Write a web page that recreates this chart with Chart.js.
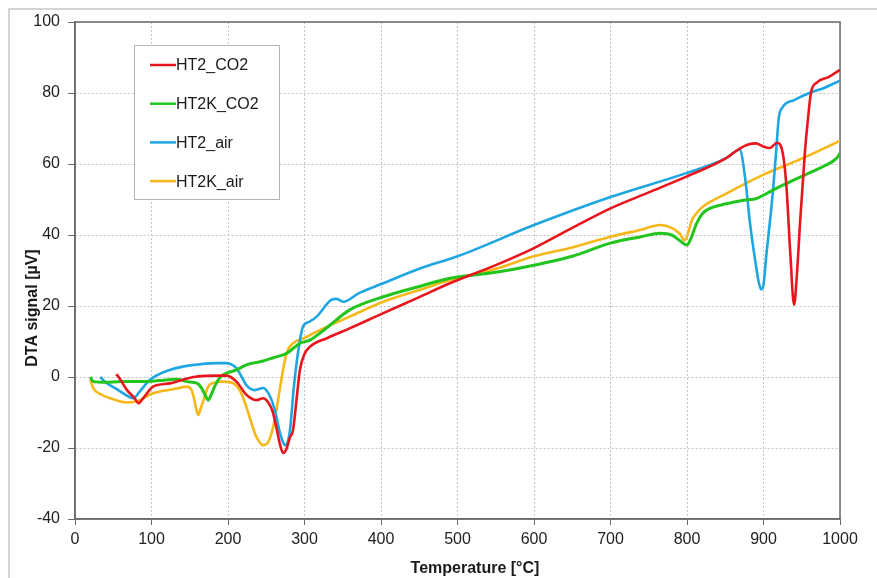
<!DOCTYPE html>
<html>
<head>
<meta charset="utf-8">
<script src="https://cdn.jsdelivr.net/npm/chart.js@4.4.1/dist/chart.umd.min.js"></script>
<style>
  html, body { margin: 0; padding: 0; background: #ffffff; }
  #wrap { position: relative; width: 877px; height: 578px; }
</style>
</head>
<body>
<div id="wrap"><canvas id="c" width="877" height="578"></canvas></div>
<script>
// ---- Data ----
const seriesLabels = ['HT2_CO2', 'HT2K_CO2', 'HT2_air', 'HT2K_air'];
const xTickValues = [0, 100, 200, 300, 400, 500, 600, 700, 800, 900, 1000];
const yTickValues = [-40, -20, 0, 20, 40, 60, 80, 100];
const xAxisTitle = 'Temperature [°C]';
const yAxisTitle = 'DTA signal [µV]';

const ht2CO2_T = [54, 57, 68, 78, 83, 89, 102, 124, 155, 190, 198, 211, 224, 237, 246, 252, 258, 264, 268, 272, 276, 281, 285, 290, 294, 300, 307, 330, 359, 403, 450, 490, 550, 600, 650, 700, 750, 800, 850, 860, 870, 880, 890, 899, 908, 918, 922, 926, 930, 935, 940, 944, 948, 954, 958, 962, 970, 985, 1000];
const ht2CO2_V = [0.8, 0, -3.7, -6, -7.4, -6, -2.7, -1.8, 0, 0.4, 0.4, -1.3, -5, -6.5, -6, -7, -9.5, -15, -19, -21.4, -20.5, -17, -15, -5.5, 2, 6.5, 8.5, 11, 13.7, 18, 22.5, 26.4, 31.5, 36.3, 42, 47.5, 52, 56.5, 61.5, 63, 64.5, 65.5, 65.8, 65, 64.5, 66, 65.4, 62, 53.6, 34.9, 20.3, 30, 44.2, 63, 72.4, 80, 83, 84.5, 86.5];

const ht2kCO2_T = [20, 24, 40, 60, 89, 110, 133, 146, 160, 165, 170, 174, 178, 183, 190, 200, 211, 225, 242, 260, 277, 294, 307, 330, 359, 403, 450, 490, 550, 600, 650, 700, 740, 765, 780, 790, 800, 806, 812, 820, 830, 843, 860, 878, 890, 904, 920, 940, 960, 980, 995, 1000];
const ht2kCO2_V = [0, -1.3, -1.5, -1.3, -1.3, -1, -0.6, -1.3, -1.8, -3, -5, -6.5, -5, -2.5, 0, 1.2, 2, 3.5, 4.3, 5.5, 6.7, 9.5, 10.4, 14, 18.9, 22.6, 25.5, 27.8, 29.5, 31.5, 34, 37.7, 39.5, 40.5, 40, 38.5, 37.2, 39.5, 43, 46, 47.5, 48.4, 49.2, 49.9, 50.2, 51.7, 53.5, 55.5, 57.5, 59.5, 61.5, 63];

const ht2Air_T = [33, 40, 55, 70, 76, 85, 98, 124, 155, 185, 198, 205, 211, 218, 224, 235, 246, 255, 262, 268, 275, 281, 286, 292, 298, 306, 316, 335, 342, 351, 370, 403, 450, 500, 600, 700, 800, 850, 869, 876, 882, 889, 894, 897, 900, 904, 909, 913, 917, 920, 925, 940, 960, 980, 1000];
const ht2Air_V = [0, -1.5, -3.5, -5.5, -6, -4, -0.8, 2, 3.4, 3.9, 3.9, 3.5, 2.5, 0, -2.3, -3.7, -3.1, -5.5, -10, -15.8, -19.2, -15, -3, 7.6, 14.2, 15.5, 17, 21.7, 22, 21.2, 23.5, 26.4, 30.5, 34, 42.8, 50.7, 57.5, 61.5, 64, 56, 44, 33, 26.5, 24.7, 26, 35, 45, 54, 65, 73, 76, 78, 80, 81.5, 83.5];

const ht2kAir_T = [20, 24, 35, 46, 58, 68, 78, 85, 93, 102, 118, 133, 146, 152, 155, 158, 161, 164, 168, 174, 182, 194, 207, 216, 224, 230, 237, 246, 252, 258, 264, 268, 272, 277, 285, 300, 316, 359, 403, 450, 490, 550, 600, 650, 700, 740, 765, 780, 790, 797, 802, 806, 812, 821, 850, 900, 950, 1000];
const ht2kAir_V = [-0.8, -3.2, -5, -6, -6.8, -7.2, -7, -6.5, -5.5, -4.6, -3.8, -3.2, -2.7, -3.5, -5.5, -8.5, -10.7, -9, -6.5, -2.7, -1.6, -1.3, -1.8, -4, -8.4, -12.5, -16.8, -19.2, -18.5, -15, -8.4, -3, 2, 7, 9.5, 11, 12.8, 17, 21.2, 24.5, 27.3, 30.5, 34, 36.5, 39.5, 41.5, 42.8, 42, 40.5, 38.5, 41, 44, 46, 48, 51.5, 57, 61.5, 66.5];

const seriesColors = ['#e8161c', '#22c41e', '#1ea6e2', '#f6b818'];

function pts(T, V) { return T.map((t, i) => ({ x: t, y: V[i] })); }

const datasets = [
  { label: seriesLabels[0], data: pts(ht2CO2_T, ht2CO2_V), borderColor: seriesColors[0], borderWidth: 2.6 },
  { label: seriesLabels[1], data: pts(ht2kCO2_T, ht2kCO2_V), borderColor: seriesColors[1], borderWidth: 3 },
  { label: seriesLabels[2], data: pts(ht2Air_T, ht2Air_V), borderColor: seriesColors[2], borderWidth: 2.6 },
  { label: seriesLabels[3], data: pts(ht2kAir_T, ht2kAir_V), borderColor: seriesColors[3], borderWidth: 2.6 }
].map(d => Object.assign(d, { pointRadius: 0, fill: false, cubicInterpolationMode: 'monotone', backgroundColor: d.borderColor }));

const FONT = "'Liberation Sans', Arial, sans-serif";

const decorPlugin = {
  id: 'decor',
  beforeDraw(chart) {
    const ctx = chart.ctx;
    ctx.save();
    ctx.strokeStyle = '#c8c8c8';
    ctx.lineWidth = 1.5;
    ctx.beginPath();
    ctx.moveTo(9, 578); ctx.lineTo(9, 9); ctx.lineTo(877, 9);
    ctx.stroke();
    ctx.restore();
  },
  beforeDatasetsDraw(chart) {
    const { ctx, chartArea: a } = chart;
    ctx.save();
    ctx.strokeStyle = '#6a6a6a';
    ctx.lineWidth = 1.5;
    ctx.strokeRect(a.left, a.top, a.right - a.left, a.bottom - a.top);
    ctx.restore();
  },
  afterDraw(chart) {
    const { ctx } = chart;
    ctx.save();
    ctx.fillStyle = '#1a1a1a';
    ctx.font = 'bold 16px ' + FONT;
    ctx.textAlign = 'center';
    ctx.textBaseline = 'middle';
    ctx.fillText(xAxisTitle, 475, 569);
    ctx.translate(33, 308);
    ctx.rotate(-Math.PI / 2);
    ctx.fillText(yAxisTitle, 0, 0);
    ctx.restore();

    // legend box inside plot
    ctx.save();
    const bx = 134, by = 45, bw = 145, bh = 154;
    ctx.fillStyle = '#ffffff';
    ctx.fillRect(bx, by, bw, bh);
    ctx.strokeStyle = '#b4b4b4';
    ctx.lineWidth = 1;
    ctx.strokeRect(bx + 0.5, by + 0.5, bw, bh);
    ctx.font = '16px ' + FONT;
    ctx.textAlign = 'left';
    ctx.textBaseline = 'middle';
    chart.data.datasets.forEach((ds, i) => {
      const y = 65 + i * 38.7;
      ctx.strokeStyle = ds.borderColor;
      ctx.lineWidth = 2.5;
      ctx.beginPath();
      ctx.moveTo(150, y); ctx.lineTo(176, y);
      ctx.stroke();
      ctx.fillStyle = '#1a1a1a';
      ctx.fillText(ds.label, 176, y + 1);
    });
    ctx.restore();
  }
};

new Chart(document.getElementById('c'), {
  type: 'line',
  data: { datasets },
  options: {
    responsive: false,
    animation: false,
    events: [],
    layout: { padding: { left: 10, top: 22, right: 37, bottom: 0 } },
    plugins: { legend: { display: false }, tooltip: { enabled: false } },
    scales: {
      x: {
        type: 'linear', min: 0, max: 1000,
        afterFit(s) { s.height = 59; },
        afterBuildTicks(s) { s.ticks = xTickValues.map(v => ({ value: v })); },
        grid: { color: '#c4c4c4', lineWidth: 1, drawTicks: true, tickLength: 6, tickColor: '#6a6a6a', tickBorderDash: [] },
        border: { display: true, color: '#6a6a6a', width: 1.5, dash: [2, 2] },
        ticks: { color: '#222', font: { family: FONT, size: 16 }, padding: 5, maxRotation: 0, callback: v => String(v) }
      },
      y: {
        type: 'linear', min: -40, max: 100,
        afterFit(s) { s.width = 65; },
        afterBuildTicks(s) { s.ticks = yTickValues.map(v => ({ value: v })); },
        grid: { color: '#c4c4c4', lineWidth: 1, drawTicks: true, tickLength: 7, tickColor: '#6a6a6a', tickBorderDash: [] },
        border: { display: true, color: '#6a6a6a', width: 1.5, dash: [2, 2] },
        ticks: { color: '#222', font: { family: FONT, size: 16 }, padding: 8, callback: v => String(v) }
      }
    }
  },
  plugins: [decorPlugin]
});
</script>
</body>
</html>
